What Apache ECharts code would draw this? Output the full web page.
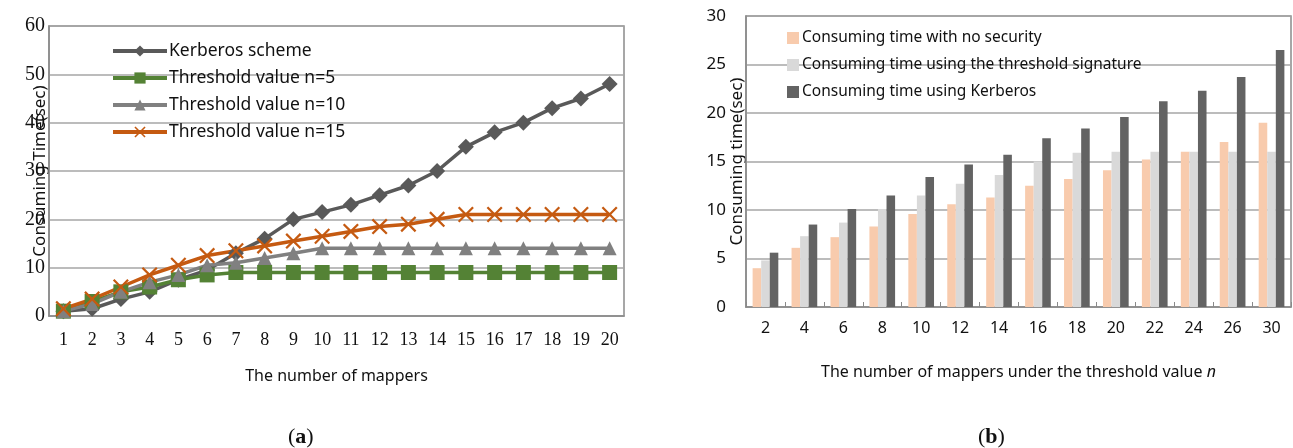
<!DOCTYPE html>
<html>
<head>
<meta charset="utf-8">
<script src="https://cdn.jsdelivr.net/npm/echarts@6/dist/echarts.min.js"></script>
<style>
  html, body { margin: 0; padding: 0; background: #fff; }
  #chart { width: 1293px; height: 448px; }
</style>
</head>
<body>
<div id="chart"></div>
<script>
// (a) consuming time versus number of mappers
const mappers = ['1','2','3','4','5','6','7','8','9','10','11','12','13','14','15','16','17','18','19','20'];
const kerberosScheme = [1, 1.5, 3.5, 5, 7.5, 9.5, 13, 16, 20, 21.5, 23, 25, 27, 30, 35, 38, 40, 43, 45, 48];
const thresholdN5  = [1, 3, 5, 6, 7.5, 8.5, 9, 9, 9, 9, 9, 9, 9, 9, 9, 9, 9, 9, 9, 9];
const thresholdN10 = [1, 2.5, 5, 7, 8.5, 10.5, 11, 12, 13, 14, 14, 14, 14, 14, 14, 14, 14, 14, 14, 14];
const thresholdN15 = [1.5, 3.5, 6, 8.5, 10.5, 12.5, 13.5, 14.5, 15.5, 16.5, 17.5, 18.5, 19, 20, 21, 21, 21, 21, 21, 21];

// (b) consuming time versus number of mappers under threshold n
const thresholdCats = ['2','4','6','8','10','12','14','16','18','20','22','24','26','30'];
const noSecurity   = [4.0, 6.1, 7.2, 8.3, 9.6, 10.6, 11.3, 12.5, 13.2, 14.1, 15.2, 16.0, 17.0, 19.0];
const thresholdSig = [4.8, 7.3, 8.7, 10.1, 11.5, 12.7, 13.6, 15.0, 15.9, 16.0, 16.0, 16.0, 16.0, 16.0];
const kerberosBars = [5.6, 8.5, 10.1, 11.5, 13.4, 14.7, 15.7, 17.4, 18.4, 19.6, 21.2, 22.3, 23.7, 26.5];

const serif = '"Liberation Serif", "DejaVu Serif", serif';
const sans = '"Noto Sans", "Open Sans", sans-serif';
const crossPath = 'path://M0,1L1,0L5,4L9,0L10,1L6,5L10,9L9,10L5,6L1,10L0,9L4,5Z';

const chart = echarts.init(document.getElementById('chart'), null, { renderer: 'canvas' });

function lineSeries(name, data, color, symbol, size) {
  return {
    name, type: 'line', xAxisIndex: 0, yAxisIndex: 0, data,
    symbol, symbolSize: size,
    lineStyle: { color, width: 3.5 },
    itemStyle: { color },
    animation: false
  };
}

function panelTitle(letter, left, size) {
  return {
    text: '{p|(}{b|' + letter + '}{p|)}', left, top: 421,
    textStyle: {
      fontWeight: 'normal',
      rich: {
        p: { fontFamily: serif, fontSize: size, color: '#111', fontWeight: 'normal' },
        b: { fontFamily: serif, fontSize: size, color: '#111', fontWeight: 'bold' }
      }
    }
  };
}

chart.setOption({
  animation: false,
  title: [panelTitle('a', 283, 22), panelTitle('b', 973, 22)],
  legend: [
    {
      data: ['Kerberos scheme', 'Threshold value n=5', 'Threshold value n=10', 'Threshold value n=15'],
      orient: 'vertical', left: 106, top: 37, itemWidth: 54, itemHeight: 14, itemGap: 9,
      lineStyle: { width: 4 },
      textStyle: { fontFamily: sans, fontSize: 17.5, color: '#111', padding: [0, 0, 0, -3] }
    },
    {
      data: ['Consuming time with no security', 'Consuming time using the threshold signature', 'Consuming time using Kerberos'],
      orient: 'vertical', left: 782, top: 25, itemWidth: 12, itemHeight: 12, itemGap: 11,
      icon: 'rect',
      textStyle: { fontFamily: sans, fontSize: 15.5, color: '#111', padding: [0, 0, 0, -2] }
    }
  ],
  grid: [
    { left: 49, top: 26, right: 669, bottom: 132, show: true, borderColor: '#8a8a8a', borderWidth: 1.5 },
    { left: 746, top: 16, right: 2, bottom: 141, show: true, borderColor: '#8a8a8a', borderWidth: 1.5 }
  ],
  xAxis: [
    {
      gridIndex: 0, type: 'category', data: mappers, boundaryGap: true,
      axisLine: { lineStyle: { color: '#8a8a8a', width: 1.5 } },
      axisTick: { show: false },
      axisLabel: { fontFamily: serif, fontSize: 18, color: '#111', margin: 15 },
      name: 'The number of mappers', nameLocation: 'middle', nameGap: 52, nameMoveOverlap: false,
      nameTextStyle: { fontFamily: sans, fontSize: 16, color: '#111' }
    },
    {
      gridIndex: 1, type: 'category', data: thresholdCats, boundaryGap: true,
      axisLine: { lineStyle: { color: '#8a8a8a', width: 1.5 } },
      axisTick: { show: true, inside: true, length: 5, lineStyle: { color: '#8a8a8a' } },
      axisLabel: { fontFamily: sans, fontSize: 16, color: '#111', margin: 13 },
      name: '{a|The number of mappers under the threshold value }{i|n}', nameLocation: 'middle', nameGap: 57,
      nameMoveOverlap: false,
      nameTextStyle: {
        fontFamily: sans, fontSize: 16, color: '#111',
        rich: {
          a: { fontFamily: sans, fontSize: 16, color: '#111' },
          i: { fontFamily: sans, fontSize: 16, color: '#111', fontStyle: 'italic' }
        }
      }
    }
  ],
  yAxis: [
    {
      gridIndex: 0, type: 'value', min: 0, max: 60, interval: 10,
      axisLine: { show: true, lineStyle: { color: '#8a8a8a', width: 1.5 } },
      splitLine: { lineStyle: { color: '#a6a6a6', width: 1.5 } },
      axisLabel: { fontFamily: serif, fontSize: 20, color: '#111', margin: 4 },
      name: 'Consuming Time(sec)', nameLocation: 'middle', nameGap: 0, nameMoveOverlap: false,
      nameTextStyle: { fontFamily: sans, fontSize: 17, color: '#111' }
    },
    {
      gridIndex: 1, type: 'value', min: 0, max: 30, interval: 5,
      axisLine: { show: true, lineStyle: { color: '#8a8a8a', width: 1.5 } },
      splitLine: { lineStyle: { color: '#a6a6a6', width: 1.5 } },
      axisLabel: { fontFamily: sans, fontSize: 17, color: '#111', margin: 20 },
      name: 'Consuming time(sec)', nameLocation: 'middle', nameGap: 0, nameMoveOverlap: false,
      nameTextStyle: { fontFamily: sans, fontSize: 17, color: '#111' }
    }
  ],
  series: [
    lineSeries('Kerberos scheme', kerberosScheme, '#595959', 'diamond', 16),
    lineSeries('Threshold value n=5', thresholdN5, '#548235', 'rect', 15),
    lineSeries('Threshold value n=10', thresholdN10, '#808080', 'triangle', 14),
    lineSeries('Threshold value n=15', thresholdN15, '#C55A11', crossPath, 16),
    {
      name: 'Consuming time with no security', type: 'bar', xAxisIndex: 1, yAxisIndex: 1,
      data: noSecurity, itemStyle: { color: '#F8CBAD' }, barGap: '0%', barCategoryGap: '34%'
    },
    {
      name: 'Consuming time using the threshold signature', type: 'bar', xAxisIndex: 1, yAxisIndex: 1,
      data: thresholdSig, itemStyle: { color: '#D9D9D9' }, barGap: '0%', barCategoryGap: '34%'
    },
    {
      name: 'Consuming time using Kerberos', type: 'bar', xAxisIndex: 1, yAxisIndex: 1,
      data: kerberosBars, itemStyle: { color: '#636363' }, barGap: '0%', barCategoryGap: '34%'
    }
  ]
});
</script>
</body>
</html>
